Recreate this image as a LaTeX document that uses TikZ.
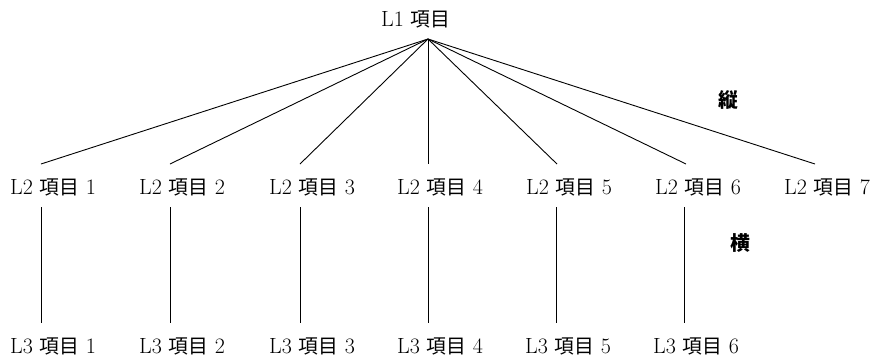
\documentclass[tikz,border=0pt]{standalone}
\usepackage{fontspec}
\newfontfamily\cjkfont[Scale=0.9]{Noto Sans CJK JP}
\newcommand\jp[1]{{\cjkfont #1}}
\newcommand\jpb[1]{{\cjkfont\bfseries #1}}
\begin{document}
\begin{tikzpicture}[x=1pt,y=-1pt,
  lbl/.style={inner sep=0pt, anchor=base west, font=\fontsize{22}{26}\selectfont},
  axislbl/.style={inner sep=0pt, anchor=center, font=\fontsize{22}{26}\selectfont},
  conn/.style={line width=0.9pt, black}]
\useasboundingbox (0,0) rectangle (876,362);
\fill[white] (0,0) rectangle (876,362);
% top node
\node[lbl] (l1) at (381,26) {L1 \jp{項目}};
\coordinate (apex) at (428,39);
% level 2 and level 3
\foreach \i/\x in {1/41,2/170,3/300,4/428,5/557,6/686,7/815}{
  \node[lbl] (l2-\i) at (\x-31,194) {L2 \jp{項目} \i};
  \coordinate (top\i) at (\x,164);
  \draw[conn] (apex) -- (top\i);
}
\foreach \i/\x in {1/41,2/170,3/300,4/428,5/556,6/684}{
  \node[lbl] (l3-\i) at (\x-31,353) {L3 \jp{項目} \i};
  \coordinate (a\i) at (\x,207);
  \coordinate (b\i) at (\x,323);
  \draw[conn] (a\i) -- (b\i);
}
\node[axislbl] (tate) at (728,100) {\jpb{縦}};
\node[axislbl] (yoko) at (740,243) {\jpb{横}};
\end{tikzpicture}
\end{document}
